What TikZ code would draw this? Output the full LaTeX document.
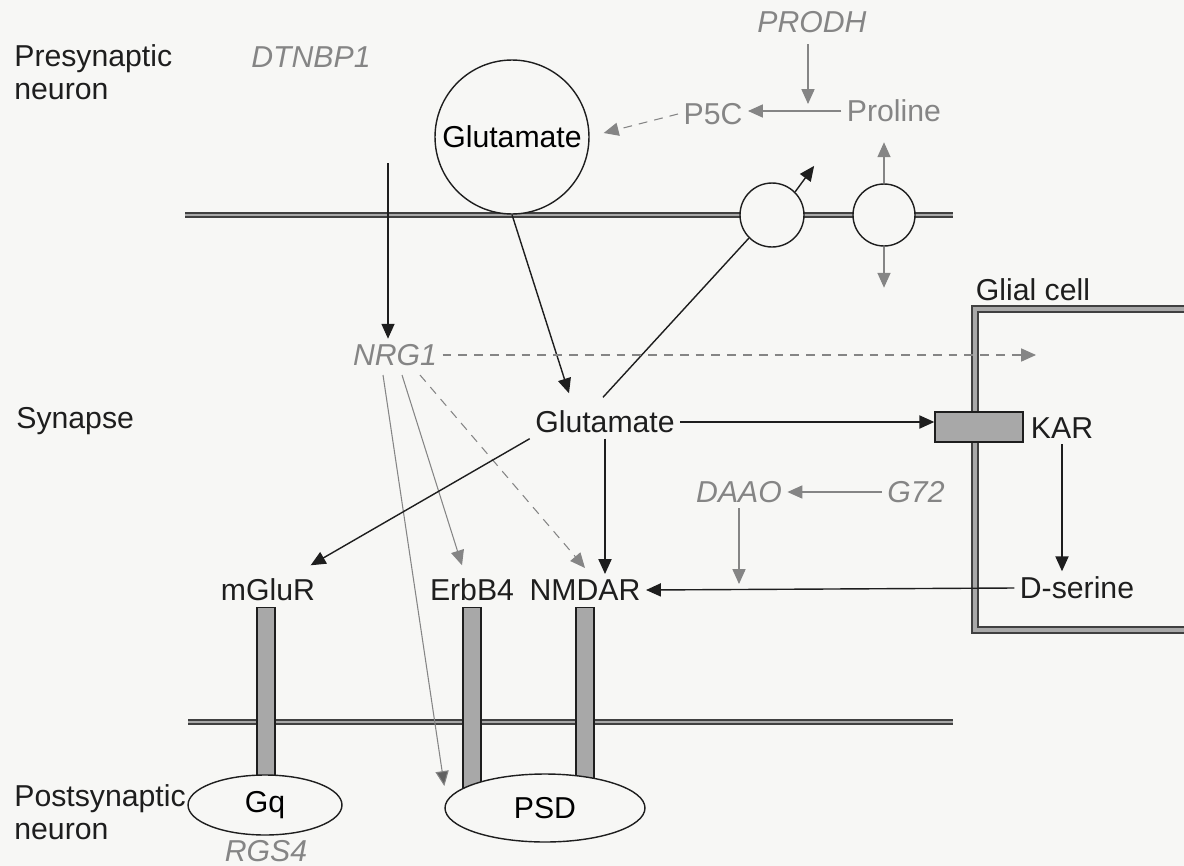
\documentclass[tikz,border=0pt]{standalone}
\usepackage{fontspec}
\setmainfont{Liberation Sans}
\usetikzlibrary{arrows.meta,shapes.geometric,calc}
\definecolor{bg}{HTML}{F7F7F5}
\definecolor{txtg}{HTML}{858585}
\definecolor{ink}{HTML}{1E1E1E}
\definecolor{barg}{HTML}{A8A8A8}
\begin{document}
\begin{tikzpicture}[x=0.02cm,y=-0.02cm,
  font=\fontsize{17.2}{19}\selectfont,
  lbl/.style={text=ink, inner sep=3pt},
  gene/.style={text=txtg, font=\fontsize{17.2}{19}\selectfont\itshape, inner sep=3pt},
  met/.style={text=txtg, inner sep=3pt},
  arr/.style={draw=ink, line width=0.8pt, -{Triangle[length=8.5pt,width=7.5pt]}},
  garr/.style={draw=txtg, line width=0.6pt, -{Triangle[length=8.5pt,width=7.5pt]}},
  dasharr/.style={garr, dash pattern=on 5pt off 4pt},
  membrane/.style={draw=ink!85, line width=1.1pt, double=barg, double distance=1.3pt},
  ves/.style={circle, draw=ink, line width=0.8pt, fill=bg, inner sep=0},
  bar/.style={rectangle, draw=ink, line width=0.8pt, fill=barg, minimum width=0.36cm, minimum height=3.8cm, inner sep=0},
  blob/.style={ellipse, draw=ink, line width=0.8pt, fill=bg, inner sep=0}]
\useasboundingbox (0,0) rectangle (1184,866);
\fill[bg] (0,0) rectangle (1184,866);

% membranes
\draw[membrane] (185,215) -- (953,215);
\draw[membrane] (188,722) -- (953,722);
\draw[membrane, double distance=2pt] (1184,309) -- (975,309) -- (975,630) -- (1184,630);

% side labels
\node[lbl, align=left, anchor=north west, inner sep=0] (pre) at (14,44) {Presynaptic\\neuron};
\node[lbl, anchor=west, inner sep=0] (syn) at (16,421) {Synapse};
\node[lbl, align=left, anchor=north west, inner sep=0] (post) at (14,784) {Postsynaptic\\neuron};
\node[lbl, inner sep=0] (glial) at (1033,290) {Glial cell};

% presynaptic
\node[gene] (dtnbp1) at (311,57) {DTNBP1};
\node[ves, minimum size=3.08cm] (gluP) at (512,137) {Glutamate};
\node[ves, minimum size=1.28cm] (t1) at (772,215) {};
\node[ves, minimum size=1.24cm] (t2) at (884,215) {};
\node[gene] (prodh) at (812,22) {PRODH};
\node[met] (proline) at (894,111) {Proline};
\node[met] (p5c) at (713,114) {P5C};
\coordinate (pj) at (808,104);

% synapse
\node[gene] (nrg1) at (395,355) {NRG1};
\node[lbl] (gluS) at (605,422) {Glutamate};
\node[rectangle, draw=ink, line width=0.8pt, fill=barg, minimum width=1.76cm, minimum height=0.6cm, inner sep=0] (kar) at (979,427) {};
\node[lbl] (karlbl) at (1062,428) {KAR};
\node[gene] (daao) at (739,492) {DAAO};
\node[gene] (g72) at (916,492) {G72};
\node[lbl] (dserine) at (1077,588) {D-serine};
\coordinate (glin) at (1036,355);

% receptors
\node[lbl] (mglur) at (268,590) {mGluR};
\node[lbl] (erbb4) at (472,590) {ErbB4};
\node[lbl] (nmdar) at (585,590) {NMDAR};
\node[bar, anchor=north] (b1) at (266,607) {};
\node[bar, anchor=north] (b2) at (472,607) {};
\node[bar, anchor=north] (b3) at (585,607) {};
\node[blob, minimum width=3.08cm, minimum height=1.2cm] (gq) at (265,805) {Gq};
\node[blob, minimum width=4cm, minimum height=1.36cm] (psd) at (545,808) {PSD};
\node[gene] (rgs4) at (266,851) {RGS4};

% NRG1 starting points
\coordinate (n1) at (383,375);
\coordinate (n2) at (402,375);
\coordinate (n3) at (420,375);
\coordinate (d1) at (388,163);

% connectors
\draw[arr, line width=0.6pt] (d1) -- (d1 |- nrg1.north);
\draw[arr] (gluP.south) -- ($(gluS.north)+(-36,-12)$);
\draw[ink, line width=0.8pt] ($(gluS.north)+(-2,-8)$) -- (t1.south west);
\draw[arr] (t1.north east) -- ++(19,-26);
\draw[garr] (t2.north) -- ++(0,-41);
\draw[garr] (t2.south) -- ++(0,41);
\draw[garr] (pj |- prodh.south) ++(0,6) -- (pj);
\draw[garr] (proline.west) -- (proline.west -| p5c.east);
\draw[dasharr] (p5c.west) -- ($(gluP.east)+(14,-4)$);

\draw[dasharr] (nrg1.east) -- (glin);
\draw[arr] (gluS.east) -- (gluS.east -| kar.west);
\draw[arr] (karlbl.south) -- (karlbl.south |- dserine.north);
\draw[arr] (dserine.west) -- (nmdar.east);
\draw[garr] (g72.west) -- (daao.east);
\draw[garr] (daao.south) -- ($(daao.south |- dserine.west)+(0,-4)$);
\draw[arr] (gluS.south) -- (gluS.south |- nmdar.north);
\draw[dasharr] (n3) -- ($(nmdar.north)+(0,-6)$);
\draw[garr] (n2) -- ($(erbb4.north)+(-10,-8)$);
\draw[garr, -{Triangle[length=8.5pt,width=7.5pt,fill=ink!70]}] (n1) -- ($(psd.west)+(0,-22)$);
\draw[arr] (gluS.south west) -- ($(mglur.north east)+(-10,-8)$);
\end{tikzpicture}
\end{document}
